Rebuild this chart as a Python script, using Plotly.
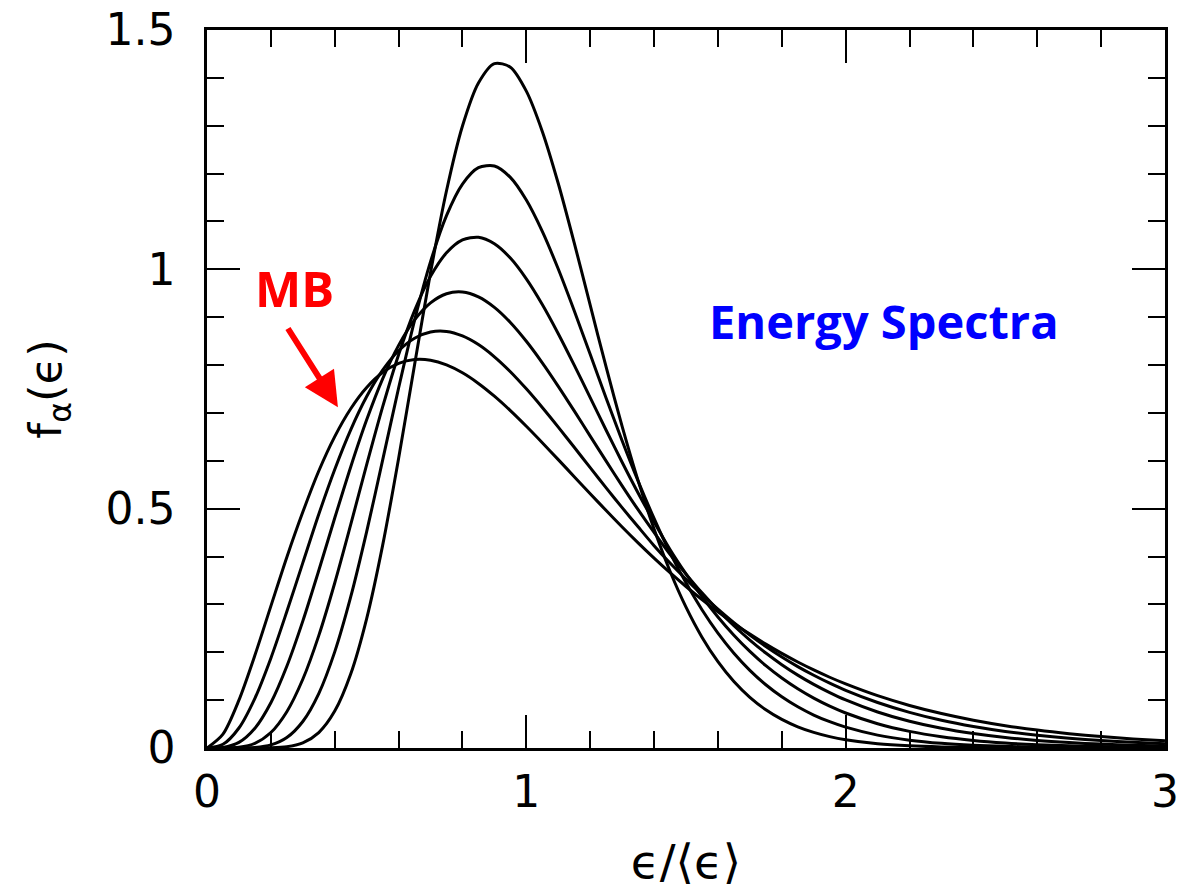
import plotly.graph_objects as go

# Energy in units of the mean energy
eps = [0.0, 0.05, 0.1, 0.15, 0.2, 0.25, 0.3, 0.35, 0.4, 0.45,
       0.5, 0.55, 0.6, 0.65, 0.7, 0.75, 0.8, 0.85, 0.9, 0.95,
       1.0, 1.05, 1.1, 1.15, 1.2, 1.25, 1.3, 1.35, 1.4, 1.45,
       1.5, 1.55, 1.6, 1.65, 1.7, 1.75, 1.8, 1.85, 1.9, 1.95,
       2.0, 2.1, 2.2, 2.3, 2.4, 2.5, 2.6, 2.7, 2.8, 2.9, 3.0]

# Spectra: broadest = Maxwell-Boltzmann (MB), then increasingly pinched
f_mb = [0, 0.0291, 0.1000, 0.1937, 0.2964, 0.3986, 0.4929, 0.5787, 0.6506, 0.7087,
        0.7531, 0.7843, 0.8034, 0.8115, 0.8101, 0.8004, 0.7838, 0.7616, 0.7349, 0.7048,
        0.6721, 0.6378, 0.6025, 0.5668, 0.5312, 0.4961, 0.4618, 0.4286, 0.3968, 0.3663,
        0.3374, 0.3101, 0.2844, 0.2603, 0.2379, 0.2170, 0.1976, 0.1796, 0.1631, 0.1478,
        0.1339, 0.1093, 0.0889, 0.0720, 0.0581, 0.0467, 0.0374, 0.0299, 0.0238, 0.0189, 0.0150]
f_2 = [0, 0.0077, 0.0418, 0.1039, 0.1877, 0.2850, 0.3867, 0.4883, 0.5820, 0.6648,
       0.7344, 0.7895, 0.8299, 0.8561, 0.8691, 0.8703, 0.8609, 0.8428, 0.8173, 0.7861,
       0.7503, 0.7114, 0.6704, 0.6282, 0.5857, 0.5435, 0.5021, 0.4621, 0.4227, 0.3863,
       0.3526, 0.3202, 0.2899, 0.2618, 0.2359, 0.2120, 0.1901, 0.1701, 0.1520, 0.1355,
       0.1205, 0.0950, 0.0744, 0.0579, 0.0449, 0.0346, 0.0266, 0.0203, 0.0155, 0.0118, 0.0089]
f_3 = [0, 0.0011, 0.0117, 0.0413, 0.0946, 0.1708, 0.2651, 0.3708, 0.4804, 0.5872,
       0.6856, 0.7712, 0.8412, 0.8943, 0.9300, 0.9491, 0.9527, 0.9425, 0.9206, 0.8890,
       0.8497, 0.8047, 0.7556, 0.7042, 0.6516, 0.5992, 0.5477, 0.4978, 0.4503, 0.4044,
       0.3633, 0.3242, 0.2883, 0.2554, 0.2255, 0.1984, 0.1741, 0.1523, 0.1329, 0.1157,
       0.1004, 0.0752, 0.0558, 0.0411, 0.0301, 0.0219, 0.0158, 0.0114, 0.0081, 0.0058, 0.0041]
f_4 = [0, 0.0001, 0.0016, 0.0099, 0.0324, 0.0759, 0.1436, 0.2348, 0.3448, 0.4666,
       0.5919, 0.7126, 0.8217, 0.9138, 0.9853, 1.0345, 1.0614, 1.0670, 1.0534, 1.0235,
       0.9801, 0.9265, 0.8655, 0.7999, 0.7320, 0.6638, 0.5970, 0.5328, 0.4722, 0.4147,
       0.3636, 0.3163, 0.2736, 0.2355, 0.2017, 0.1720, 0.1461, 0.1236, 0.1041, 0.0874,
       0.0731, 0.0507, 0.0347, 0.0235, 0.0158, 0.0105, 0.0069, 0.0045, 0.0030, 0.0019, 0.0012]
f_5 = [0, 0.0000, 0.0001, 0.0012, 0.0064, 0.0219, 0.0554, 0.1138, 0.2008, 0.3155,
       0.4520, 0.6013, 0.7521, 0.8936, 1.0160, 1.1123, 1.1782, 1.2124, 1.2160, 1.1921,
       1.1448, 1.0793, 1.0006, 0.9135, 0.8224, 0.7309, 0.6420, 0.5577, 0.4796, 0.4076,
       0.3450, 0.2889, 0.2401, 0.1981, 0.1623, 0.1322, 0.1070, 0.0861, 0.0689, 0.0549,
       0.0435, 0.0269, 0.0164, 0.0098, 0.0058, 0.0034, 0.0020, 0.0011, 0.0006, 0.0004, 0.0002]
f_6 = [0, 0.0000, 0.0000, 0.0000, 0.0004, 0.0027, 0.0108, 0.0323, 0.0771, 0.1546,
       0.2704, 0.4233, 0.6050, 0.8009, 0.9932, 1.1642, 1.2995, 1.3894, 1.4299, 1.4224,
       1.3724, 1.2882, 1.1794, 1.0554, 0.9251, 0.7955, 0.6721, 0.5586, 0.4574, 0.3693,
       0.2943, 0.2316, 0.1803, 0.1388, 0.1058, 0.0799, 0.0597, 0.0443, 0.0326, 0.0238,
       0.0173, 0.0089, 0.0045, 0.0022, 0.0011, 0.0005, 0.0002, 0.0001, 0.0000, 0.0000, 0.0000]

spectra = [f_mb, f_2, f_3, f_4, f_5, f_6]
for ys in spectra:
    assert len(ys) == len(eps)

fig = go.Figure()
for ys in spectra:
    fig.add_trace(go.Scatter(x=eps, y=ys, mode="lines",
                             line=dict(color="black", width=3, shape="spline", smoothing=0.8),
                             hoverinfo="skip", showlegend=False))

axis_common = dict(
    ticks="inside", ticklen=33, tickwidth=2, tickcolor="black",
    showline=True, linewidth=2.5, linecolor="black", mirror="allticks",
    showgrid=False, zeroline=False,
    tickfont=dict(family="DejaVu Sans", size=44, color="black"),
)

fig.update_xaxes(
    range=[0, 3], tick0=0, dtick=1,
    minor=dict(dtick=0.2, tick0=0, ticks="inside", ticklen=17, tickwidth=2,
               tickcolor="black", showgrid=False),
    ticklabelstandoff=3,
    title=dict(text="ϵ/⟨ϵ⟩", font=dict(family="DejaVu Sans", size=47, color="black"), standoff=36),
    **axis_common,
)
fig.update_yaxes(
    range=[0, 1.5], tick0=0, dtick=0.5,
    minor=dict(dtick=0.1, tick0=0, ticks="inside", ticklen=17, tickwidth=2,
               tickcolor="black", showgrid=False),
    ticklabelstandoff=20,
    title=dict(text="f<sub>α</sub>(ϵ)", font=dict(family="DejaVu Sans", size=45, color="black"), standoff=30),
    **axis_common,
)

fig.add_annotation(x=0.2725, y=0.961, xref="x", yref="y", text="<b>MB</b>", showarrow=False,
                   font=dict(family="Open Sans", size=49, color="#FF0000"),
                   xanchor="center", yanchor="middle")
fig.add_annotation(x=0.410, y=0.712, xref="x", yref="y", ax=0.2505, ay=0.8795,
                   axref="x", ayref="y", text="", showarrow=True,
                   arrowhead=2, arrowsize=1.15, arrowwidth=6, arrowcolor="#FF0000")
fig.add_annotation(x=2.12, y=0.893, xref="x", yref="y", text="<b>Energy Spectra</b>", showarrow=False,
                   font=dict(family="Open Sans", size=47, color="#0000FF"),
                   xanchor="center", yanchor="middle")

fig.update_layout(
    width=1181, height=889,
    margin=dict(l=207, r=16, t=30, b=141, autoexpand=False),
    plot_bgcolor="white", paper_bgcolor="white",
    showlegend=False,
)

fig.write_html("out.html")
